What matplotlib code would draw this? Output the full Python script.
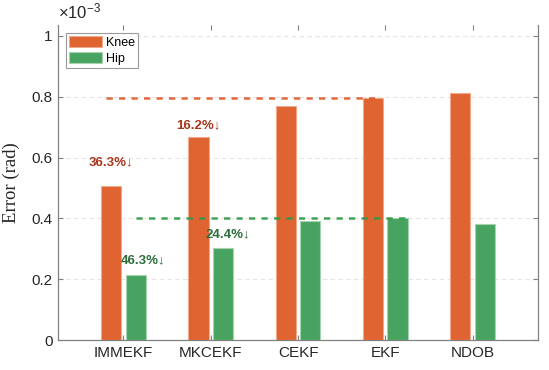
import numpy as np
import matplotlib.pyplot as plt
from matplotlib.ticker import FuncFormatter

# values (x 1e-3 rad)
methods = ['IMMEKF', 'MKCEKF', 'CEKF', 'EKF', 'NDOB']
knee = [0.507, 0.667, 0.770, 0.795, 0.812]
hip = [0.214, 0.302, 0.391, 0.400, 0.383]
knee_notes = ['36.3%\u2193', '16.2%\u2193']
hip_notes = ['46.3%\u2193', '24.4%\u2193']

orange = '#DF6432'
green = '#49A360'

plt.rcParams['font.family'] = ['Liberation Sans', 'DejaVu Sans']
plt.rcParams['mathtext.fontset'] = 'custom'
plt.rcParams['mathtext.rm'] = 'Liberation Sans'
plt.rcParams['mathtext.it'] = 'Liberation Sans'

fig = plt.figure(figsize=(5.49, 3.70), dpi=100)
ax = fig.add_axes([58 / 549, 30 / 370, 480 / 549, 315 / 370])

x = np.arange(1, len(methods) + 1)
off, w = 0.14, 0.23
ax.bar(x - off, knee, w, color=orange, edgecolor='#F0A98A', linewidth=0.8,
       label='Knee', zorder=3)
ax.bar(x + off, hip, w, color=green, edgecolor='#A5D3B0', linewidth=0.8,
       label='Hip', zorder=3)

# reference levels (EKF)
ax.plot([x[0] - off - 0.06, x[3] - off + 0.02], [knee[3], knee[3]],
        ls=(0, (2.5, 2.5)), color='#E0582A', lw=1.8, alpha=0.9, zorder=4)
ax.plot([x[0] + off, x[3] + off + 0.09], [hip[3], hip[3]],
        ls=(0, (2.5, 2.5)), color='#2E9A47', lw=1.8, alpha=0.9, zorder=4)

# improvement notes
knee_dy = [0.078, 0.040]
hip_dx = [0.09, 0.06]
hip_dy = [0.049, 0.047]
for i, t in enumerate(knee_notes):
    ax.text(x[i] - off, knee[i] + knee_dy[i], t, ha='center', va='center',
            color='#A8361A', fontsize=9.5, fontweight='bold', zorder=5)
for i, t in enumerate(hip_notes):
    ax.text(x[i] + off + hip_dx[i], hip[i] + hip_dy[i], t, ha='center',
            va='center', color='#2C6E3A', fontsize=9.5, fontweight='bold',
            zorder=5)

ax.set_xlim(0.25, 5.75)
ax.set_ylim(0, 1.036)
ax.set_xticks(x)
ax.set_xticklabels(methods)
ax.set_yticks(np.arange(0, 1.01, 0.2))
ax.yaxis.set_major_formatter(FuncFormatter(lambda v, p: '%g' % round(v, 2)))
ax.text(0.0, 1.012, r'$\times 10^{-3}$', transform=ax.transAxes,
        fontsize=12, color='#262626', ha='left', va='bottom')

ax.tick_params(direction='in', length=3.5, width=0.8, color='#808080',
               labelsize=11, labelcolor='#262626',
               top=True, right=True, pad=4)
ax.grid(axis='y', ls=(0, (4, 3)), color='#E4E4E4', lw=0.8, zorder=0)
ax.set_axisbelow(True)
for s in ['left', 'bottom', 'right']:
    ax.spines[s].set_color('#808080')
    ax.spines[s].set_linewidth(0.9)
ax.spines['top'].set_visible(False)

ax.set_ylabel('Error (rad)', family=['Liberation Serif', 'DejaVu Serif'],
              fontsize=13.5, color='#262626', labelpad=8)

leg = ax.legend(loc='upper left', bbox_to_anchor=(0.017, 0.975), fontsize=9,
                handlelength=2.6, handleheight=1.0, handletextpad=0.3,
                borderpad=0.25, labelspacing=0.25, fancybox=False,
                framealpha=1, borderaxespad=0)
leg.get_frame().set_edgecolor('#9A9A9A')
leg.get_frame().set_linewidth(0.8)

fig.savefig('out.png', dpi=100)
